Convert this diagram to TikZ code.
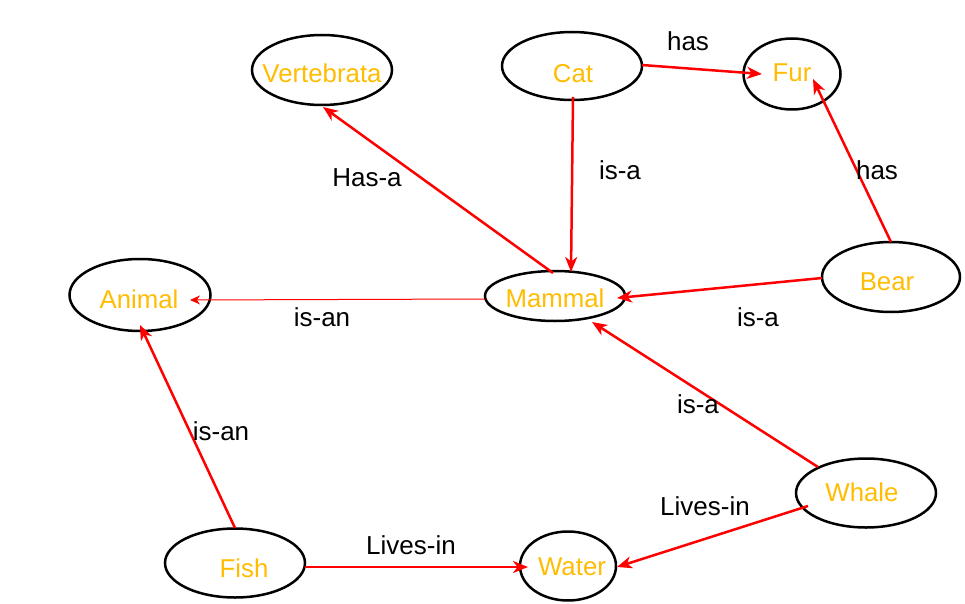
\documentclass[tikz,border=0pt]{standalone}
\usepackage{fontspec}
\setmainfont{Liberation Sans}
\usetikzlibrary{shapes.geometric,arrows.meta,calc}
\definecolor{amber}{RGB}{255,188,0}
\begin{document}
\begin{tikzpicture}[x=1pt,y=-1pt,
  ell/.style={draw=black,line width=2.5pt,ellipse,inner sep=0pt},
  nt/.style={text=amber,font=\fontsize{25.8}{27}\selectfont,inner sep=0pt},
  lab/.style={text=black,font=\fontsize{26}{27}\selectfont,inner sep=0pt},
  rel/.style={draw=red,line width=2.5pt,-{Stealth[length=15pt,width=12pt,inset=4.5pt]}},
  thinrel/.style={draw=red,line width=1pt,-{Stealth[length=10pt,width=9pt,inset=3pt]}}]
\useasboundingbox (0,0) rectangle (965,604);
% ellipses
\node[ell,minimum width=140pt,minimum height=70pt] (vert) at (322,70) {};
\node[ell,minimum width=140pt,minimum height=68pt] (cat) at (572,66) {};
\node[ell,minimum width=97pt,minimum height=71pt] (fur) at (792,74) {};
\node[ell,minimum width=141pt,minimum height=72pt] (animal) at (140,295) {};
\node[ell,minimum width=140pt,minimum height=50pt] (mammal) at (555,296) {};
\node[ell,minimum width=138pt,minimum height=70pt] (bear) at (891,277) {};
\node[ell,minimum width=140pt,minimum height=69pt] (fish) at (235,563) {};
\node[ell,minimum width=96pt,minimum height=69pt] (water) at (568,566) {};
\node[ell,minimum width=140pt,minimum height=69pt] (whale) at (866,493) {};
% node texts
\node[nt] (vertT) at (322,73) {Vertebrata};
\node[nt] (catT) at (573,74) {Cat};
\node[nt] (furT) at (792,73) {Fur};
\node[nt] (animalT) at (139,299) {Animal};
\node[nt] (mammalT) at (555,298) {Mammal};
\node[nt] (bearT) at (887,282) {Bear};
\node[nt] (whaleT) at (862,492) {Whale};
\node[nt] (fishT) at (244,568) {Fish};
\node[nt] (waterT) at (572,567) {Water};
% connectors
\draw[rel] ($(cat.center)+(70,-1)$) -- ($(fur.center)+(-30,0)$);
\draw[rel] ($(cat.center)+(1,31)$) -- ($(mammal.center)+(16,-24)$);
\draw[rel] ($(mammal.center)+(-2,-23)$) -- ($(vert.center)+(1,37)$);
\draw[thinrel] ($(mammal.center)+(-70,3)$) -- ($(animal.center)+(50,5)$);
\draw[rel] ($(bear.center)+(-69,1)$) -- ($(mammal.center)+(62,2)$);
\draw[rel] ($(bear.center)+(0,-35)$) -- ($(fur.center)+(21,5)$);
\draw[rel] ($(whale.center)+(-48,-26)$) -- ($(mammal.center)+(37,26)$);
\draw[rel] ($(whale.center)+(-58,13)$) -- ($(water.center)+(49,1)$);
\draw[rel] ($(fish.center)+(70,4)$) -- ($(water.center)+(-40,1)$);
\draw[rel] ($(fish.center)+(0,-35)$) -- ($(animal.center)+(0,30)$);
% labels
\node[lab] (l1) at (688,41) {has};
\node[lab] (l2) at (620,170) {is-a};
\node[lab] (l3) at (367,178) {Has-a};
\node[lab] (l4) at (877,170) {has};
\node[lab] (l5) at (322,317) {is-an};
\node[lab] (l6) at (758,317) {is-a};
\node[lab] (l7) at (698,404) {is-a};
\node[lab] (l8) at (221,431) {is-an};
\node[lab] (l9) at (705,506) {Lives-in};
\node[lab] (l10) at (411,545) {Lives-in};
\end{tikzpicture}
\end{document}
